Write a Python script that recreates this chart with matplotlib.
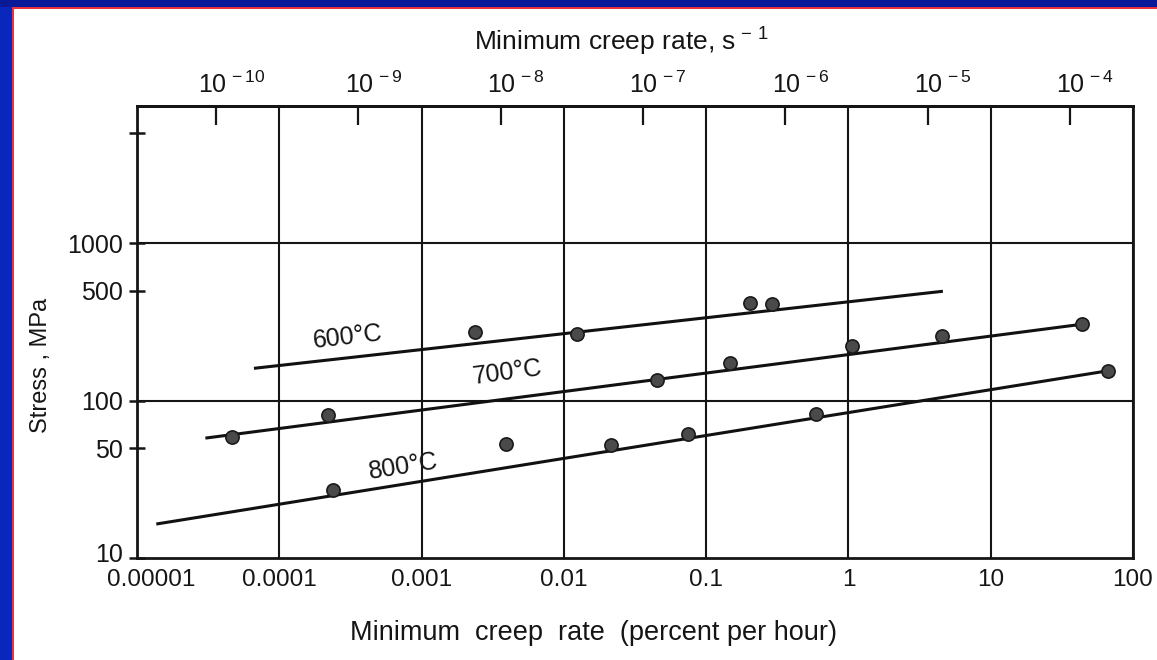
import numpy as np
import matplotlib
matplotlib.use('Agg')
import matplotlib.pyplot as plt
from matplotlib.patches import Rectangle
import matplotlib.transforms as mtransforms

# ---------------- data ----------------
rate_600 = [0.00239, 0.0124, 0.204, 0.288]
stress_600 = [273, 264, 416, 412]
rate_700 = [4.64e-5, 0.000221, 0.0448, 0.147, 1.06, 4.53, 43.6]
stress_700 = [59, 81, 136, 174, 222, 258, 306]
rate_800 = [0.000239, 0.00392, 0.0214, 0.0748, 0.594, 67]
stress_800 = [27.2, 52.7, 51.9, 61.7, 81.7, 155]

# fitted straight lines (end points)
fit_600_rate = [6.8e-5, 4.5]
fit_600_stress = [161, 495]
fit_700_rate = [3.1e-5, 43.6]
fit_700_stress = [58, 306]
fit_800_rate = [1.4e-5, 67]
fit_800_stress = [16.5, 155]

curve_labels = ['600°C', '700°C', '800°C']
label_rate = [3.04e-4, 4.03e-3, 7.5e-4]
label_stress = [254, 150, 37.9]
label_rot = [6.5, 7.5, 9]

x_ticks = [1e-5, 1e-4, 1e-3, 1e-2, 1e-1, 1, 10, 100]
x_tick_labels = ['0.00001', '0.0001', '0.001', '0.01', '0.1', '1', '10', '100']
y_ticks = [10, 50, 100, 500, 1000, 5000]
y_tick_labels = ['10', '50', '100', '500', '1000', '']
s_ticks = [1e-10, 1e-9, 1e-8, 1e-7, 1e-6, 1e-5, 1e-4]
s_tick_labels = [r'$10^{\,-10}$', r'$10^{\,-9}$', r'$10^{\,-8}$', r'$10^{\,-7}$',
                 r'$10^{\,-6}$', r'$10^{\,-5}$', r'$10^{\,-4}$']
grid_stress = [100, 1000]

# ---------------- style ----------------
plt.rcParams['font.family'] = ['Liberation Sans', 'DejaVu Sans']
plt.rcParams['mathtext.fontset'] = 'custom'
plt.rcParams['mathtext.rm'] = 'Liberation Sans'
plt.rcParams['mathtext.it'] = 'Liberation Sans:italic'
plt.rcParams['mathtext.bf'] = 'Liberation Sans:bold'

W, H = 1157, 660
fig = plt.figure(figsize=(W / 100, H / 100), dpi=100)
fig.patch.set_facecolor('white')

# slide frame (blue strips with thin red edge)
fig.add_artist(Rectangle((0, 0), 13 / W, 1, transform=fig.transFigure,
                         facecolor='#0a27bd', edgecolor='none', zorder=-10))
fig.add_artist(Rectangle((0, 1 - 7 / H), 1, 7 / H, transform=fig.transFigure,
                         facecolor='#081a98', edgecolor='none', zorder=-10))
fig.add_artist(Rectangle((12 / W, 0), 1.6 / W, 1 - 7 / H, transform=fig.transFigure,
                         facecolor='#e8323c', edgecolor='none', zorder=-9))
fig.add_artist(Rectangle((12 / W, 1 - 8.6 / H), 1 - 12 / W, 1.6 / H, transform=fig.transFigure,
                         facecolor='#e8323c', edgecolor='none', zorder=-9))

left, right, top, bottom = 137, 1133, 106, 558
ax = fig.add_axes([left / W, 1 - bottom / H, (right - left) / W, (bottom - top) / H])
ax.set_xscale('log')
ax.set_yscale('log')
ax.set_xlim(1e-5, 100)
ax.set_ylim(10, 7470)

ink = '#151515'
for s in ax.spines.values():
    s.set_linewidth(2.0)
    s.set_color(ink)

# grid
ax.set_xticks(x_ticks)
ax.set_xticklabels(x_tick_labels, fontsize=17.5, color=ink)
ax.xaxis.set_minor_locator(matplotlib.ticker.NullLocator())
ax.tick_params(axis='x', which='major', length=0, pad=8)
ax.grid(axis='x', which='major', color=ink, linewidth=1.5)
for g in grid_stress:
    ax.axhline(g, color=ink, linewidth=1.5, zorder=1)

ax.set_yticks(y_ticks)
ax.set_yticklabels(y_tick_labels, fontsize=18, color=ink)
ax.yaxis.set_minor_locator(matplotlib.ticker.NullLocator())
ax.tick_params(axis='y', which='major', direction='inout', length=12, width=1.8,
               color=ink, pad=4)

# nudge the corner labels apart as in the reference
first_x = ax.get_xticklabels()[0]
first_x.set_transform(first_x.get_transform() +
                      mtransforms.ScaledTranslation(14 / 100, 0, fig.dpi_scale_trans))
first_y = ax.get_yticklabels()[0]
first_y.set_transform(first_y.get_transform() +
                      mtransforms.ScaledTranslation(0, 5 / 100, fig.dpi_scale_trans))

# fitted lines
for rx, sy in [(fit_600_rate, fit_600_stress), (fit_700_rate, fit_700_stress),
               (fit_800_rate, fit_800_stress)]:
    ax.plot(rx, sy, color='#111111', linewidth=2.2, zorder=3)

# data points
for rx, sy in [(rate_600, stress_600), (rate_700, stress_700), (rate_800, stress_800)]:
    ax.plot(rx, sy, linestyle='none', marker='o', markersize=9.5,
            markerfacecolor='#4a4a4a', markeredgecolor='#1a1a1a',
            markeredgewidth=1.2, zorder=4)

# curve labels
for t, xr, ys, rot in zip(curve_labels, label_rate, label_stress, label_rot):
    ax.text(xr, ys, t, fontsize=18, color=ink, rotation=rot,
            ha='center', va='center', rotation_mode='anchor', zorder=5)

# axis labels
ax.set_xlabel('Minimum  creep  rate  (percent per hour)', fontsize=19.5, color=ink)
ax.xaxis.set_label_coords((594 - left) / (right - left), (bottom - 620) / (bottom - top))
ax.set_ylabel('Stress , MPa', fontsize=17, color=ink)
ax.yaxis.set_label_coords((52 - left) / (right - left), (bottom - 365) / (bottom - top))

# top axis in s^-1
def pct_to_s(x):
    x = np.asarray(x, dtype=float)
    return x / 3.6e5

def s_to_pct(x):
    x = np.asarray(x, dtype=float)
    return x * 3.6e5

sec = ax.secondary_xaxis('top', functions=(pct_to_s, s_to_pct))
sec.set_xscale('log')
sec.set_xticks(s_ticks)
sec.set_xticklabels(s_tick_labels, fontsize=18, color=ink)
sec.xaxis.set_minor_locator(matplotlib.ticker.NullLocator())
sec.tick_params(axis='x', which='major', direction='in', length=14, width=1.6,
                color=ink, pad=6)
sec.spines['top'].set_linewidth(2.0)
off = mtransforms.ScaledTranslation(15 / 100, 0, fig.dpi_scale_trans)
for lab in sec.get_xticklabels():
    lab.set_transform(lab.get_transform() + off)

fig.text(621 / W, 1 - 42 / H, r'Minimum creep rate, s$^{\,-\,1}$', fontsize=19,
         color=ink, ha='center', va='center')

fig.savefig('out.png', dpi=100)
